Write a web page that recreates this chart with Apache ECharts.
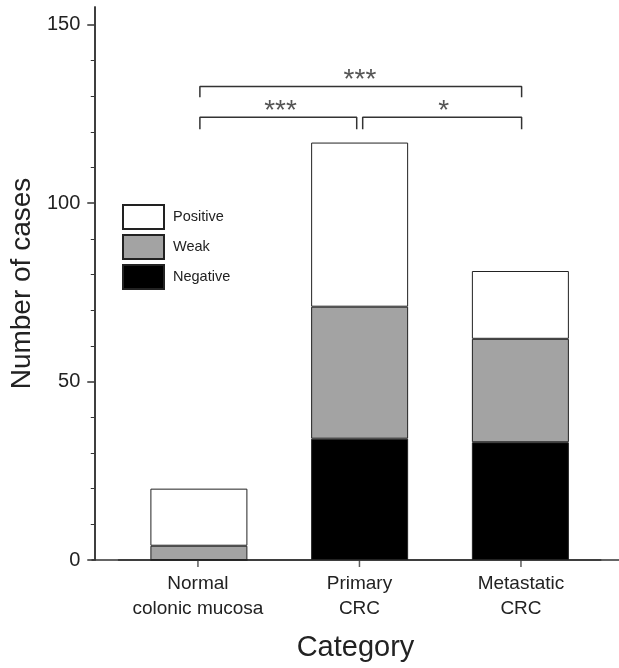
<!DOCTYPE html>
<html>
<head>
<meta charset="utf-8">
<script src="https://cdn.jsdelivr.net/npm/echarts@6/dist/echarts.min.js"></script>
<style>html,body{margin:0;padding:0;background:#fff}#c{width:619px;height:668px}</style>
</head>
<body>
<div id="c"></div>
<script>
var categories = ['Normal\ncolonic mucosa', 'Primary\nCRC', 'Metastatic\nCRC'];
var categoryPos = [1, 2, 3];
var negative = [0, 34, 33];
var weak = [4, 37, 29];
var positive = [16, 46, 19];
var yTicks = [0, 50, 100, 150];
var yMinorTicks = [10, 20, 30, 40, 60, 70, 80, 90, 110, 120, 130, 140];
// significance brackets: [x, y] in data units (x: category index 1..3)
var bracketTop = [[1.012, 129.7], [1.012, 132.7], [3.004, 132.7], [3.004, 129.7]];
var bracketLeft = [[1.012, 120.7], [1.012, 124.1], [1.983, 124.1], [1.983, 120.7]];
var bracketRight = [[2.020, 120.7], [2.020, 124.1], [3.004, 124.1], [3.004, 120.7]];
var stars = [[2.003, 134.5, '***'], [1.511, 125.7, '***'], [2.522, 125.7, '*']];

var font = 'Liberation Sans, Arial, sans-serif';
var chart = echarts.init(document.getElementById('c'));
var axisColor = '#333';
function bar(name, data, color) {
  return { type: 'bar', name: name, stack: 's', barWidth: 97, xAxisIndex: 0, yAxisIndex: 0, data: data,
    itemStyle: { color: color, borderColor: '#222', borderWidth: 1 } };
}
function bracket(data) {
  return { type: 'line', xAxisIndex: 1, yAxisIndex: 2, data: data, symbol: 'none', silent: true,
    lineStyle: { color: axisColor, width: 1.5 } };
}
chart.setOption({
  animation: false,
  textStyle: { fontFamily: font },
  grid: [
    { left: 116.25, right: 18.25, top: 7, bottom: 108 },
    { left: 92, right: 0, top: 7, bottom: 108 }
  ],
  legend: {
    orient: 'vertical', left: 122, top: 204, padding: 0, itemWidth: 41, itemHeight: 24, itemGap: 4,
    icon: 'rect', data: ['Positive', 'Weak', 'Negative'],
    textStyle: { fontSize: 14.5, color: '#222', fontFamily: font, padding: [0, 0, 0, 4] }
  },
  xAxis: [{
    type: 'category', gridIndex: 0, data: categories,
    axisLine: { show: true, lineStyle: { color: axisColor, width: 1.5 } },
    axisTick: { show: false },
    axisLabel: { show: false }
  }, {
    type: 'value', gridIndex: 1, min: 0.344, max: 3.607, position: 'bottom',
    name: 'Category', nameLocation: 'middle', nameGap: 73,
    nameTextStyle: { fontSize: 29, color: '#222', fontFamily: font },
    splitLine: { show: false },
    axisLine: { show: true, onZero: false, lineStyle: { color: axisColor, width: 1.5 } },
    axisTick: { show: false },
    axisLabel: {
      show: true, customValues: categoryPos, margin: 11, fontSize: 19, lineHeight: 25, color: '#222', fontFamily: font,
      formatter: function (v) { return categories[Math.round(v) - 1]; }
    }
  }],
  yAxis: [{
    type: 'value', gridIndex: 0, min: 0, max: 155, position: 'left', offset: 24.25,
    name: 'Number of cases', nameLocation: 'middle', nameGap: 56,
    nameTextStyle: { fontSize: 28, color: '#222', fontFamily: font },
    splitLine: { show: false },
    axisLine: { show: true, lineStyle: { color: axisColor, width: 1.5 } },
    axisTick: { show: true, customValues: yTicks, length: 7, lineStyle: { color: axisColor, width: 1.5 } },
    axisLabel: { customValues: yTicks, margin: 14, fontSize: 20, color: '#222', fontFamily: font }
  }, {
    type: 'value', gridIndex: 0, min: 0, max: 155, position: 'left', offset: 24.25,
    splitLine: { show: false },
    axisLine: { show: true, lineStyle: { color: axisColor, width: 1.5 } },
    axisTick: { show: true, customValues: yMinorTicks, length: 3.5, lineStyle: { color: axisColor, width: 1 } },
    axisLabel: { show: false }
  }, {
    type: 'value', gridIndex: 1, min: 0, max: 155, position: 'left',
    axisLine: { show: false }, axisTick: { show: false }, axisLabel: { show: false }, splitLine: { show: false }
  }],
  series: [
    bar('Negative', negative, '#000'),
    bar('Weak', weak, '#a3a3a3'),
    bar('Positive', positive, '#fff'),
    bracket(bracketTop),
    bracket(bracketLeft),
    bracket(bracketRight),
    {
      type: 'scatter', xAxisIndex: 1, yAxisIndex: 2, symbolSize: 0, data: stars, silent: true,
      label: { show: true, position: 'inside', fontSize: 28, color: '#2a2a2a', fontFamily: font,
        formatter: function (p) { return p.data[2]; } }
    },
    {
      // x-axis tick marks at the category positions
      type: 'scatter', xAxisIndex: 1, yAxisIndex: 2, silent: true, clip: false, z: 10,
      symbol: 'rect', symbolSize: [1.5, 7], symbolOffset: [0, 3.5],
      itemStyle: { color: axisColor },
      data: categoryPos.map(function (p) { return [p, 0]; })
    }
  ]
});
</script>
</body>
</html>
